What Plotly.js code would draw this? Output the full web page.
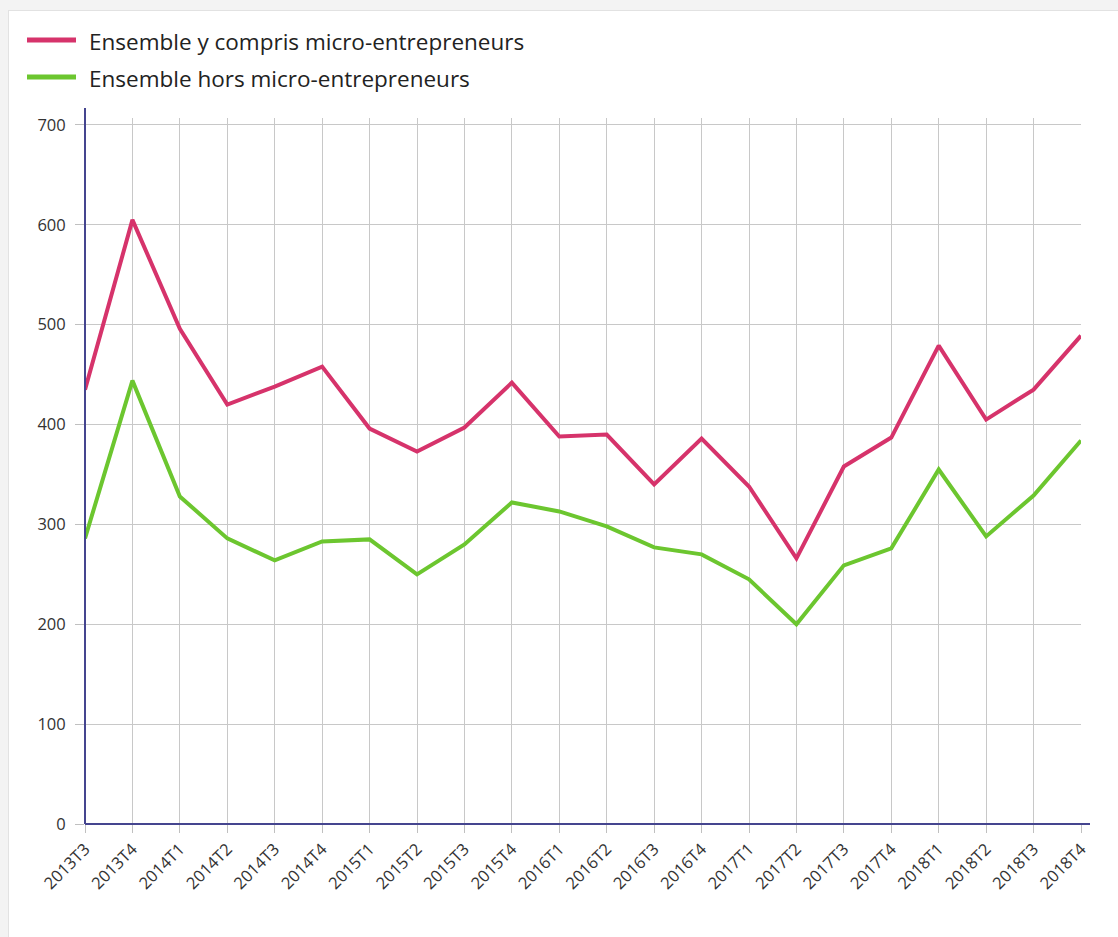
<!DOCTYPE html>
<html>
<head>
<meta charset="utf-8">
<script src="https://cdn.plot.ly/plotly-3.0.1.min.js"></script>
<style>
  html, body { margin: 0; padding: 0; background: #f3f3f3; width: 1118px; height: 937px; overflow: hidden; }
  #card { position: absolute; left: 8px; top: 10px; width: 1110px; height: 927px; background: #ffffff; border-left: 1px solid #e2e2e2; border-top: 1px solid #e2e2e2; box-sizing: border-box; }
  #chart { position: absolute; left: 0; top: 0; width: 1118px; height: 937px; }
</style>
</head>
<body>
<div id="card"></div>
<div id="chart"></div>
<script>
const categories = ["2013T3","2013T4","2014T1","2014T2","2014T3","2014T4","2015T1","2015T2","2015T3","2015T4","2016T1","2016T2","2016T3","2016T4","2017T1","2017T2","2017T3","2017T4","2018T1","2018T2","2018T3","2018T4"];
const seriesNames = ["Ensemble y compris micro-entrepreneurs", "Ensemble hors micro-entrepreneurs"];
const avecMicro = [435, 605, 496, 420, 438, 458, 396, 373, 397, 442, 388, 390, 340, 386, 338, 266, 358, 387, 479, 405, 435, 489];
const horsMicro = [286, 444, 328, 286, 264, 283, 285, 250, 280, 322, 313, 298, 277, 270, 245, 200, 259, 276, 355, 288, 329, 384];
const yTicks = [0, 100, 200, 300, 400, 500, 600, 700];
const colors = ["#d6336b", "#6cc62f"];

const traces = [
  { x: categories, y: avecMicro, name: seriesNames[0], type: "scatter", mode: "lines",
    line: { color: colors[0], width: 4 }, showlegend: false, cliponaxis: false },
  { x: categories, y: horsMicro, name: seriesNames[1], type: "scatter", mode: "lines",
    line: { color: colors[1], width: 4 }, showlegend: false, cliponaxis: false }
];

const L = 85, R = 1081, T = 118, B = 824;
const W = R - L, H = B - T;
const px = v => (v - L) / W;
const py = v => (B - v) / H;

const legendY = [40, 77];
const shapes = [
  { type: "line", xref: "paper", yref: "paper", x0: 0, x1: 0, y0: 0, y1: py(108), line: { color: "#45458f", width: 2 } },
  { type: "line", xref: "paper", yref: "paper", x0: 0, x1: px(1090), y0: 0, y1: 0, line: { color: "#45458f", width: 2 } }
];
const annotations = [];
seriesNames.forEach((n, i) => {
  shapes.push({ type: "line", xref: "paper", yref: "paper", x0: px(27), x1: px(76), y0: py(legendY[i]), y1: py(legendY[i]), line: { color: colors[i], width: 5 } });
  annotations.push({ xref: "paper", yref: "paper", x: px(87), y: py(legendY[i] + 1), xanchor: "left", yanchor: "middle",
    text: n, showarrow: false, font: { family: "Open Sans, sans-serif", size: 22.5, color: "#222" } });
});

const layout = {
  width: 1118, height: 937,
  margin: { l: L, r: 1118 - R, t: T, b: 937 - B, pad: 0 },
  paper_bgcolor: "rgba(0,0,0,0)",
  plot_bgcolor: "rgba(0,0,0,0)",
  font: { family: "Open Sans, sans-serif", color: "#333" },
  showlegend: false,
  xaxis: {
    type: "category", range: [0, categories.length - 1],
    showgrid: true, gridcolor: "#c8c8c8", gridwidth: 1,
    showline: false, zeroline: false,
    ticks: "outside", ticklen: 8, tickcolor: "#c0c0c0", tickwidth: 1,
    tickangle: -45, tickfont: { size: 16.5, color: "#333" }
  },
  yaxis: {
    range: [0, 707], tickmode: "array", tickvals: yTicks, ticktext: yTicks.map(String),
    showgrid: true, gridcolor: "#c8c8c8", gridwidth: 1,
    showline: false, zeroline: false,
    ticks: "outside", ticklen: 9, tickcolor: "#c0c0c0", tickwidth: 1,
    ticklabelstandoff: 6,
    tickfont: { size: 16.5, color: "#333" }
  },
  shapes: shapes,
  annotations: annotations
};

Plotly.newPlot("chart", traces, layout, { displayModeBar: false, staticPlot: true });
</script>
</body>
</html>
